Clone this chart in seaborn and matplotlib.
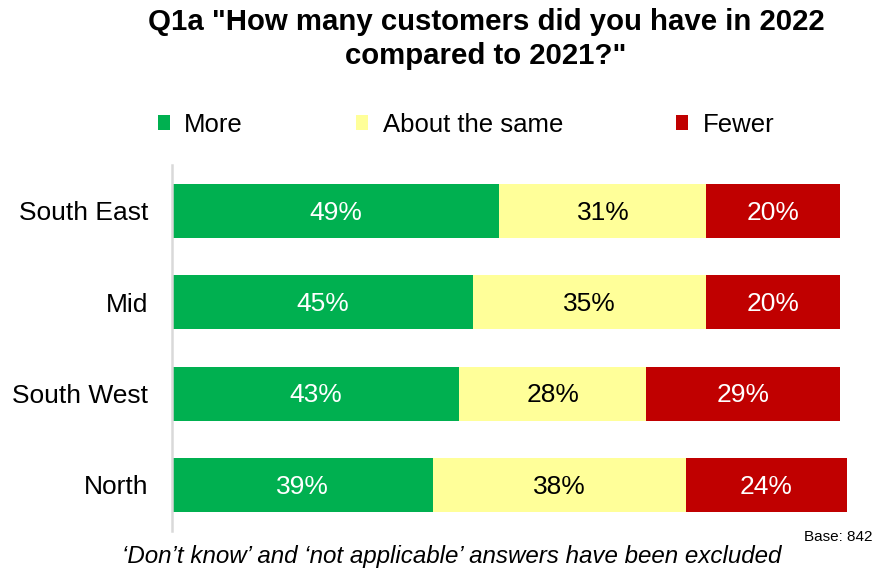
import matplotlib
matplotlib.use("Agg")
import matplotlib.pyplot as plt
from matplotlib.patches import Patch
import numpy as np
import pandas as pd
import seaborn as sns

regions = ["South East", "Mid", "South West", "North"]
more = [49, 45, 43, 39]
same = [31, 35, 28, 38]
fewer = [20, 20, 29, 24]
series_names = ["More", "About the same", "Fewer"]
series_colors = ["#00B050", "#FFFF99", "#C00000"]
label_colors = ["white", "black", "white"]

sns.set_theme(style="white")
plt.rcParams["font.family"] = ["Liberation Sans", "DejaVu Sans"]
plt.rcParams["text.color"] = "black"

df = pd.DataFrame({"region": regions, "More": more,
                   "About the same": same, "Fewer": fewer})
cum = df[series_names].cumsum(axis=1)

fig = plt.figure(figsize=(8.74, 5.72), dpi=100)
ax = fig.add_axes([172 / 874, 1 - 530.6 / 572, 668 / 874, 365.3 / 572])

# stacked bars: draw cumulative totals from the longest down
for name, color in reversed(list(zip(series_names, series_colors))):
    sns.barplot(x=cum[name], y=df["region"], orient="h", order=regions,
                color=color, saturation=1, width=0.59, ax=ax)
for p in ax.patches:
    p.set_clip_on(False)
    p.set_linewidth(0)

# value labels centred in each segment
for name, lc in zip(series_names, label_colors):
    starts = cum[name] - df[name]
    for i, (s, v) in enumerate(zip(starts, df[name])):
        ax.text(s + v / 2, i + 0.02, f"{v}%", ha="center", va="center",
                color=lc, fontsize=19)

ax.set_xlim(0, 100)
ax.set_ylim(3.5, -0.5)
ax.set_xlabel("")
ax.set_ylabel("")
ax.set_xticks([])
ax.tick_params(axis="y", length=0, pad=17, labelsize=19, labelcolor="black")
for side in ["top", "right", "bottom"]:
    ax.spines[side].set_visible(False)
ax.spines["left"].set_color("#D9D9D9")
ax.spines["left"].set_linewidth(1.8)

fig.text(486 / 874, 1 - 39 / 572,
         'Q1a "How many customers did you have in 2022\ncompared to 2021?"',
         ha="center", va="center", fontsize=21.2, fontweight="bold",
         linespacing=1.3, color="black")

handles = [Patch(facecolor=c, edgecolor="none") for c in series_colors]
leg = fig.legend(handles, series_names, loc="center", ncol=3,
                 bbox_to_anchor=(466 / 874, 1 - 124.5 / 572), frameon=False,
                 fontsize=18.5, handlelength=0.48, handleheight=0.48,
                 handletextpad=0.55, columnspacing=4.4, borderpad=0)
for t in leg.get_texts():
    t.set_color("black")

fig.text(872 / 874, 1 - 537 / 572, "Base: 842", ha="right", va="center",
         fontsize=11, color="black")
fig.text(452 / 874, 1 - 557 / 572,
         "\u2018Don\u2019t know\u2019 and \u2018not applicable\u2019 answers have been excluded",
         ha="center", va="center", fontsize=17.4, style="italic", color="black")

fig.savefig("out.png", dpi=100)
